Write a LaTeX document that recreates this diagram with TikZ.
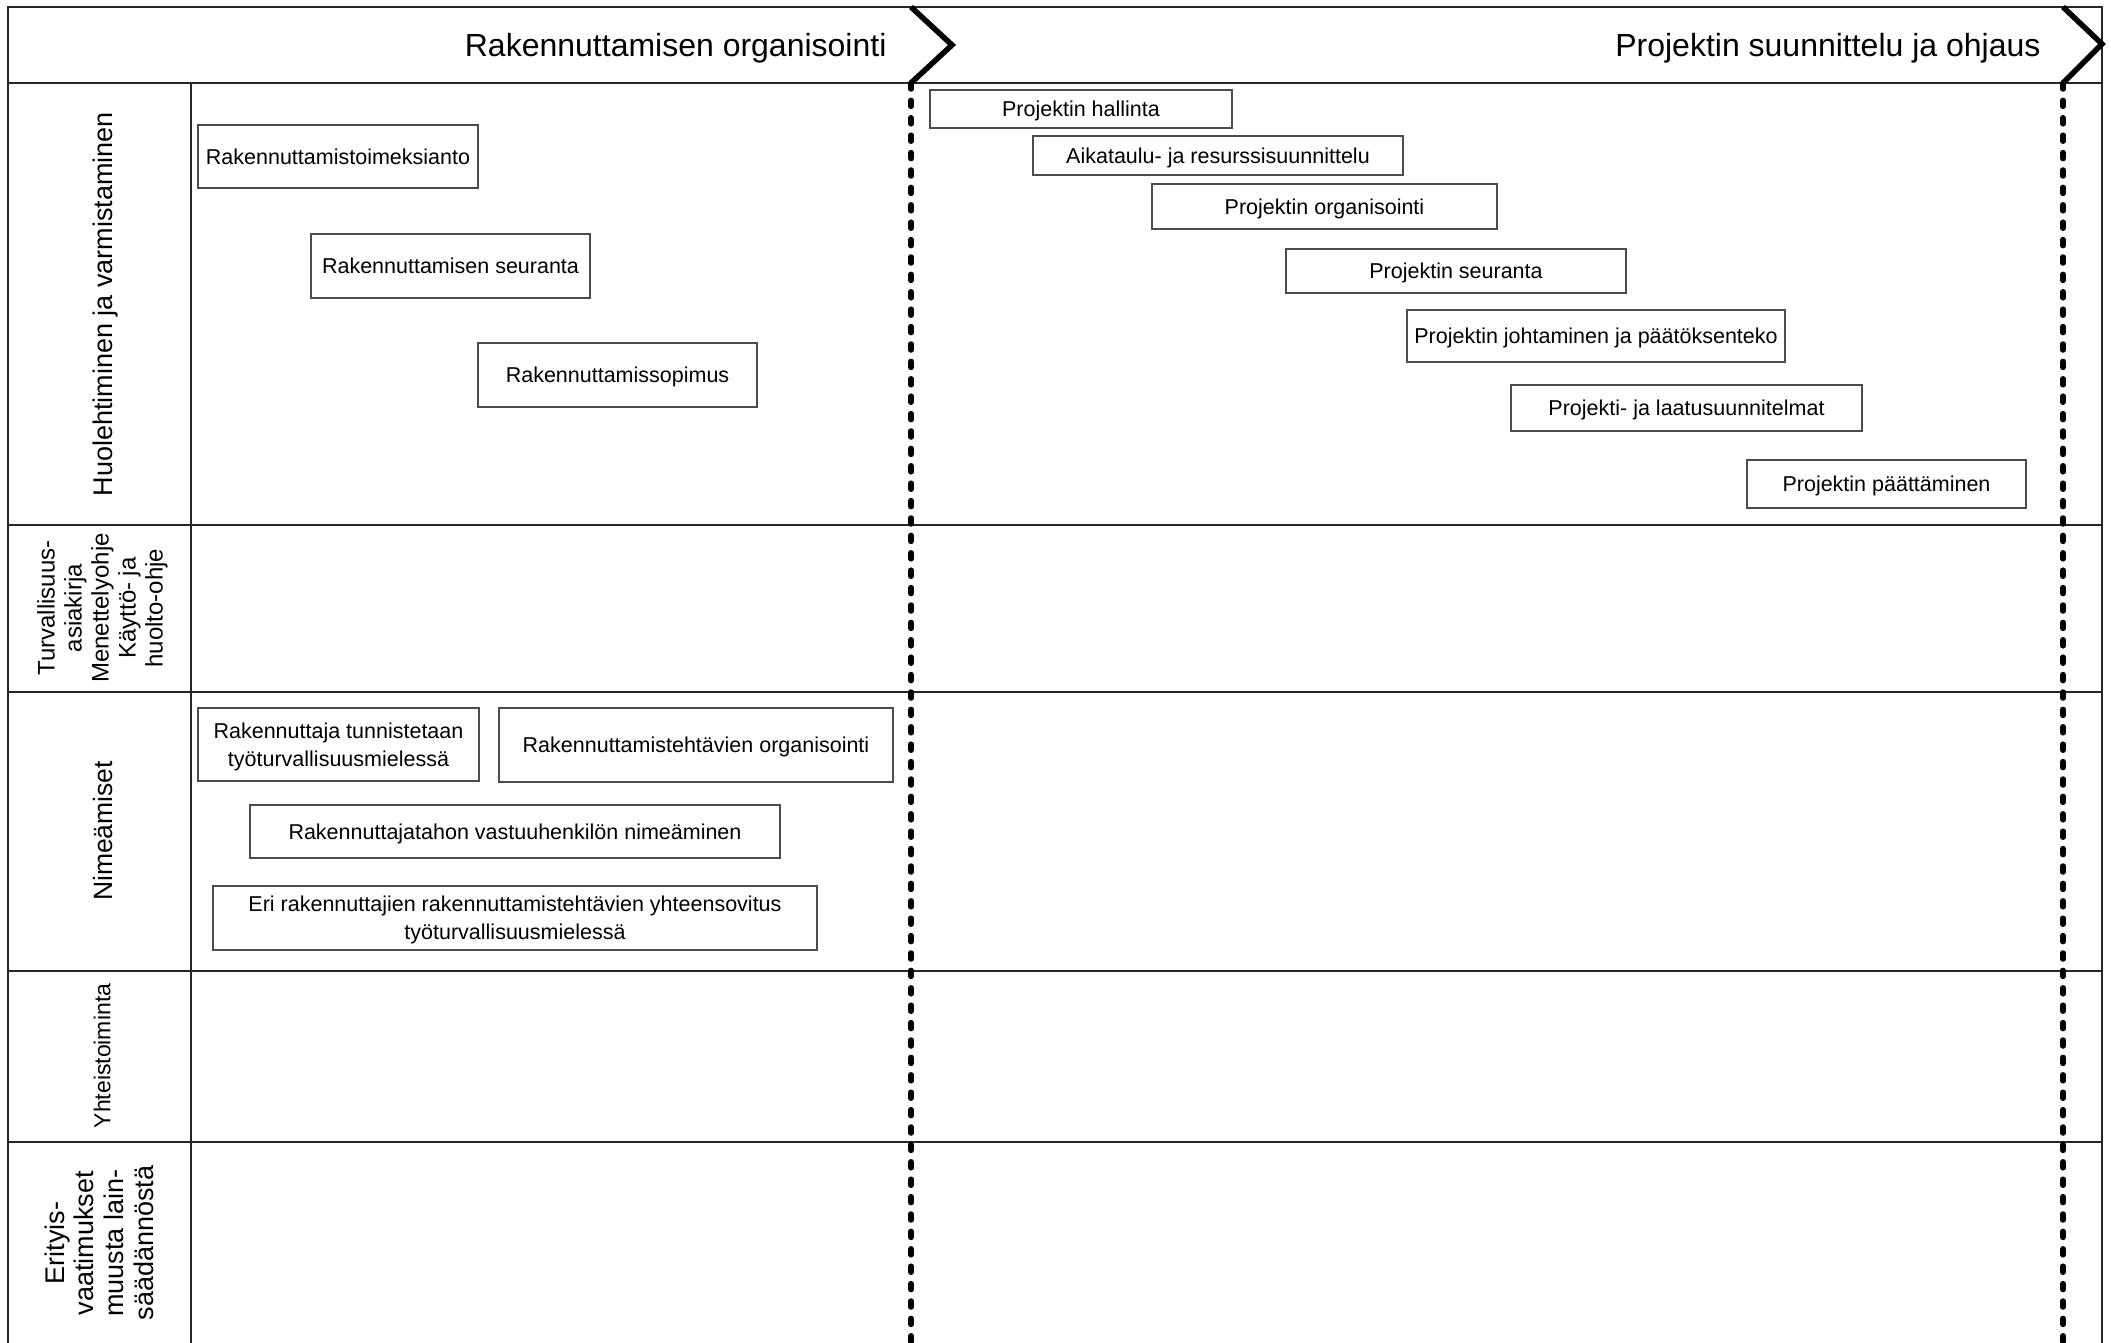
\documentclass[tikz,border=0pt]{standalone}
\usepackage{fontspec}
\setmainfont{Liberation Sans}
\begin{document}
\begin{tikzpicture}[x=1pt,y=-1pt,
 box/.style={draw=black!70,line width=1.3pt,fill=white,inner sep=0pt,align=center,text depth=0pt,font=\fontsize{21.5}{28}\selectfont},
 grid/.style={line width=1.8pt,black!85},
 sepline/.style={line width=5.5pt,dash pattern=on 6pt off 11.4pt,line cap=round},
 chev/.style={line width=5.5pt,line join=miter},
 lab/.style={rotate=90,align=center,text depth=0pt},
 head/.style={anchor=east,text depth=0pt,font=\fontsize{32}{36}\selectfont}]
\useasboundingbox (0,0) rectangle (2111,1343);
% frame and grid
\draw[grid] (8,1343) -- (8,7) -- (2102,7) -- (2102,1343);
\foreach \yy in {83,525,692,971,1142} \draw[grid] (8,\yy) -- (2102,\yy);
\draw[grid] (191,83) -- (191,1343);
% chevrons and phase separators
\coordinate (c1t) at (911,7); \coordinate (c1m) at (952,45); \coordinate (c1b) at (911,83); \coordinate (c1e) at (911,1343);
\coordinate (c2t) at (2063,7); \coordinate (c2m) at (2102,44); \coordinate (c2b) at (2063,83); \coordinate (c2e) at (2063,1343);
\draw[chev] (c1t) -- (c1m) -- (c1b);
\draw[chev] (c2t) -- (c2m) -- (c2b);
\draw[sepline] (c1b) -- (c1e);
\draw[sepline] (c2b) -- (c2e);
% header texts
\node[head] (h1) at (890,45) {Rakennuttamisen organisointi};
\node[head] (h2) at (2044,45) {Projektin suunnittelu ja ohjaus};
% row labels
\node[lab,font=\fontsize{27}{30}\selectfont] (l1) at (103,304) {Huolehtiminen ja varmistaminen};
\node[lab,font=\fontsize{24}{27}\selectfont] (l2) at (100,608) {Turvallisuus-\\asiakirja\\Menettelyohje\\Käyttö- ja\\huolto-ohje};
\node[lab,font=\fontsize{26.5}{30}\selectfont] (l3) at (103,831) {Nimeämiset};
\node[lab,font=\fontsize{23}{27}\selectfont] (l4) at (102,1056) {Yhteistoiminta};
\node[lab,font=\fontsize{27}{29.6}\selectfont] (l5) at (99,1243) {Erityis-\\vaatimukset\\muusta lain-\\säädännöstä};
% boxes
\node[box,minimum width=280pt,minimum height=63pt] (b1) at (338,156.5) {Rakennuttamistoimeksianto};
\node[box,minimum width=279pt,minimum height=64pt] (b2) at (450.5,266) {Rakennuttamisen seuranta};
\node[box,minimum width=279pt,minimum height=64pt] (b3) at (617.5,375) {Rakennuttamissopimus};
\node[box,minimum width=302pt,minimum height=38pt] (b4) at (1081,109) {Projektin hallinta};
\node[box,minimum width=370pt,minimum height=39pt] (b5) at (1218,155.5) {Aikataulu- ja resurssisuunnittelu};
\node[box,minimum width=345pt,minimum height=45pt] (b6) at (1324.5,206.5) {Projektin organisointi};
\node[box,minimum width=340pt,minimum height=44pt] (b7) at (1456,271) {Projektin seuranta};
\node[box,minimum width=378pt,minimum height=52pt] (b8) at (1596,336) {Projektin johtaminen ja päätöksenteko};
\node[box,minimum width=351pt,minimum height=46pt] (b9) at (1686.5,408) {Projekti- ja laatusuunnitelmat};
\node[box,minimum width=279pt,minimum height=48pt] (b10) at (1886.5,484) {Projektin päättäminen};
\node[box,minimum width=281pt,minimum height=73pt] (b11) at (338.5,744.5) {Rakennuttaja tunnistetaan\\työturvallisuusmielessä};
\node[box,minimum width=394pt,minimum height=74pt] (b12) at (696,745) {Rakennuttamistehtävien organisointi};
\node[box,minimum width=530pt,minimum height=53pt] (b13) at (515,831.5) {Rakennuttajatahon vastuuhenkilön nimeäminen};
\node[box,minimum width=604pt,minimum height=64pt] (b14) at (515,918) {Eri rakennuttajien rakennuttamistehtävien yhteensovitus\\työturvallisuusmielessä};
\end{tikzpicture}
\end{document}
